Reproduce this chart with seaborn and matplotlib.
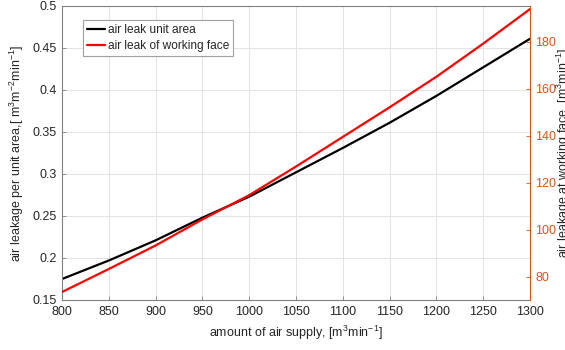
import numpy as np
import pandas as pd
import seaborn as sns
import matplotlib
matplotlib.use("Agg")
import matplotlib.pyplot as plt

# Data
supply = [800, 850, 900, 950, 1000, 1050, 1100, 1150, 1200, 1250, 1300]
leak_unit_area = [0.175, 0.197, 0.221, 0.248, 0.273, 0.302, 0.331, 0.361, 0.393, 0.427, 0.461]
leak_working_face = [73.6, 83.4, 93.4, 104.5, 114.8, 127.0, 139.6, 152.2, 165.2, 179.3, 194.0]

x_ticks = [800, 850, 900, 950, 1000, 1050, 1100, 1150, 1200, 1250, 1300]
y_ticks = [0.15, 0.2, 0.25, 0.3, 0.35, 0.4, 0.45, 0.5]
y_tick_labels = ["0.15", "0.2", "0.25", "0.3", "0.35", "0.4", "0.45", "0.5"]
y2_ticks = [80, 100, 120, 140, 160, 180]

df = pd.DataFrame({"supply": supply, "unit": leak_unit_area, "face": leak_working_face})

sns.set_theme(style="whitegrid")
plt.rcParams["font.family"] = ["Liberation Sans", "DejaVu Sans"]
plt.rcParams["mathtext.default"] = "regular"

orange = "#D95319"
gray = "#262626"
spine_gray = "#808080"

fig = plt.figure(figsize=(5.65, 3.5), dpi=100)
fig.patch.set_facecolor("white")
ax = fig.add_axes([62 / 565, 50 / 350, 468 / 565, 294 / 350])
ax2 = ax.twinx()

sns.lineplot(data=df, x="supply", y="unit", ax=ax, color="black", lw=1.6, label="air leak unit area", legend=False)
sns.lineplot(data=df, x="supply", y="face", ax=ax2, color="#FF0000", lw=1.6, label="air leak of working face", legend=False)

ax.set_xlim(800, 1300)
ax.set_ylim(0.15, 0.5)
ax2.set_ylim(70.2, 195.3)
ax.set_xticks(x_ticks)
ax.set_yticks(y_ticks)
ax.set_yticklabels(y_tick_labels)
ax2.set_yticks(y2_ticks)

ax.grid(True, color="#e3e3e3", lw=0.7)
ax2.grid(False)
ax.set_facecolor("white")
ax2.patch.set_visible(False)

for s in ["left", "bottom", "top"]:
    ax.spines[s].set_color(spine_gray)
    ax.spines[s].set_linewidth(0.8)
ax.spines["right"].set_visible(False)
for s in ["left", "bottom", "top"]:
    ax2.spines[s].set_visible(False)
ax2.spines["right"].set_color(orange)
ax2.spines["right"].set_linewidth(0.8)

ax.tick_params(axis="both", direction="in", length=3, width=0.6, colors=spine_gray,
               labelcolor=gray, labelsize=9, pad=4, top=False, right=False, left=True, bottom=True)
ax2.tick_params(axis="y", direction="in", length=3, width=0.6, colors=orange,
                labelcolor=orange, labelsize=9, pad=4)

ax.set_xlabel("amount of air supply, [m$^3$min$^{-1}$]", fontsize=9, color=gray)
ax.set_ylabel("air leakage per unit area,[ m$^3$m$^{-2}$min$^{-1}$]", fontsize=9, color=gray)
ax2.set_ylabel("air leakage at working face, [m$^3$min$^{-1}$]", fontsize=9, color=gray)
ax.yaxis.set_label_coords(-0.076, 0.5)
ax2.yaxis.set_label_coords(1.054, 0.5)
ax.xaxis.set_label_coords(0.5, -0.08)

h1, l1 = ax.get_legend_handles_labels()
h2, l2 = ax2.get_legend_handles_labels()
leg = ax2.legend(h1 + h2, l1 + l2, loc="upper left", bbox_to_anchor=(0.045, 0.952),
                 fontsize=8.6, frameon=True, fancybox=False, framealpha=1,
                 edgecolor="#a0a0a0", handlelength=1.45, handletextpad=0.25,
                 borderpad=0.35, labelspacing=0.3, borderaxespad=0)
leg.get_frame().set_linewidth(0.8)

fig.savefig("out.png", dpi=100)
